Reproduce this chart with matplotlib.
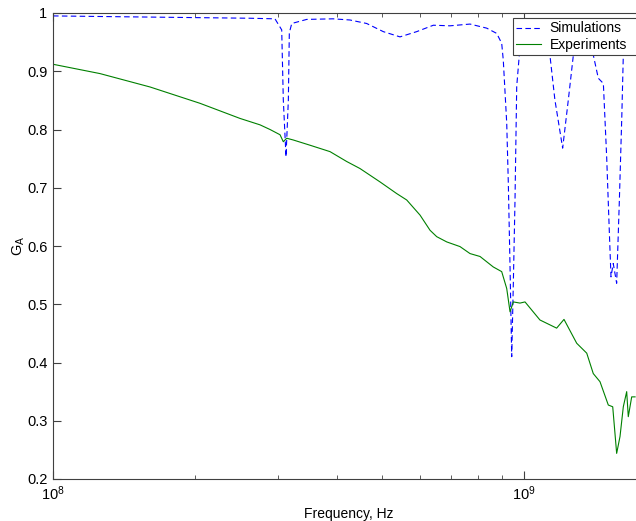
import numpy as np
import matplotlib
matplotlib.use("Agg")
from matplotlib import pyplot as plt
from matplotlib.ticker import FixedLocator, LogLocator, NullFormatter, FuncFormatter

# Simulated gain
sim_freq = [1.000e8, 1.258e8, 1.607e8, 2.051e8, 2.620e8, 2.960e8, 3.059e8, 3.083e8,
            3.124e8, 3.160e8, 3.175e8, 3.213e8, 3.457e8, 3.931e8, 4.271e8, 4.634e8,
            5.027e8, 5.454e8, 5.917e8, 6.420e8, 6.965e8, 7.680e8, 8.333e8, 8.750e8,
            8.967e8, 9.037e8, 9.190e8, 9.262e8, 9.340e8, 9.417e8, 9.492e8, 9.570e8,
            9.650e8, 9.806e8, 1.030e9, 1.108e9, 1.136e9, 1.163e9, 1.208e9, 1.242e9,
            1.273e9, 1.315e9, 1.367e9, 1.403e9, 1.438e9, 1.474e9, 1.498e9, 1.518e9,
            1.530e9, 1.547e9, 1.573e9, 1.594e9, 1.613e9, 1.625e9, 1.679e9, 1.763e9]
sim_gain = [0.995, 0.994, 0.993, 0.992, 0.991, 0.990, 0.971, 0.851,
            0.753, 0.851, 0.966, 0.982, 0.989, 0.990, 0.988, 0.982,
            0.968, 0.959, 0.968, 0.979, 0.978, 0.981, 0.974, 0.965,
            0.948, 0.919, 0.811, 0.708, 0.564, 0.410, 0.536, 0.679,
            0.874, 0.942, 0.975, 0.960, 0.925, 0.851, 0.768, 0.851,
            0.928, 0.965, 0.955, 0.928, 0.888, 0.879, 0.753, 0.622,
            0.547, 0.570, 0.536, 0.679, 0.822, 0.928, 0.965, 0.970]

# Measured gain
exp_freq = [1.000e8, 1.258e8, 1.607e8, 2.051e8, 2.495e8, 2.751e8, 2.889e8, 3.034e8,
            3.083e8, 3.135e8, 3.237e8, 3.513e8, 3.874e8, 4.204e8, 4.485e8, 4.947e8,
            5.367e8, 5.636e8, 6.016e8, 6.317e8, 6.527e8, 6.855e8, 7.313e8, 7.680e8,
            8.066e8, 8.606e8, 8.967e8, 9.190e8, 9.340e8, 9.492e8, 9.806e8, 1.005e9,
            1.081e9, 1.173e9, 1.216e9, 1.294e9, 1.359e9, 1.403e9, 1.450e9, 1.510e9,
            1.543e9, 1.573e9, 1.599e9, 1.625e9, 1.652e9, 1.665e9, 1.693e9, 1.721e9]
exp_gain = [0.912, 0.896, 0.873, 0.845, 0.819, 0.808, 0.800, 0.791,
            0.779, 0.785, 0.782, 0.773, 0.762, 0.745, 0.733, 0.710,
            0.690, 0.679, 0.653, 0.627, 0.616, 0.607, 0.599, 0.587,
            0.582, 0.564, 0.556, 0.527, 0.487, 0.504, 0.502, 0.504,
            0.473, 0.459, 0.474, 0.433, 0.416, 0.381, 0.367, 0.327,
            0.324, 0.244, 0.273, 0.324, 0.350, 0.307, 0.341, 0.341]

y_ticks = [0.2, 0.3, 0.4, 0.5, 0.6, 0.7, 0.8, 0.9, 1.0]

plt.rcParams['font.family'] = ['Liberation Sans', 'DejaVu Sans']
plt.rcParams['mathtext.fontset'] = 'custom'
plt.rcParams['mathtext.rm'] = 'Liberation Sans'
plt.rcParams['mathtext.it'] = 'Liberation Sans'

fig = plt.figure(figsize=(6.36, 5.21), dpi=100)
# axes run a little past the right edge of the image, as in the original
ax = fig.add_axes([53 / 636, 42 / 521, 591 / 636, 466 / 521])

ax.semilogx(sim_freq, sim_gain, '--', color='blue', lw=0.8, dashes=(5, 3), label='Simulations')
ax.semilogx(exp_freq, exp_gain, '-', color='green', lw=0.8, label='Experiments')

ax.set_xlim(1e8, 10 ** (8 + 591 / 471))
ax.set_ylim(0.2, 1.0)
ax.yaxis.set_major_locator(FixedLocator(y_ticks))
ax.yaxis.set_major_formatter(FuncFormatter(lambda v, p: '%g' % v))
ax.xaxis.set_major_locator(FixedLocator([1e8, 1e9]))
ax.xaxis.set_major_formatter(FuncFormatter(lambda v, p: r'$10^{%d}$' % round(np.log10(v))))
ax.xaxis.set_minor_locator(LogLocator(base=10, subs=np.arange(2, 10)))
ax.xaxis.set_minor_formatter(NullFormatter())

ax.tick_params(which='both', direction='in', top=True, right=False, labelsize=10.5,
               color='#404040', pad=4)
ax.tick_params(which='major', length=6)
ax.tick_params(which='minor', length=3)
for side in ['left', 'bottom', 'top']:
    ax.spines[side].set_color('#404040')
    ax.spines[side].set_linewidth(0.8)
ax.spines['right'].set_visible(False)

ax.set_xlabel('Frequency, Hz', fontsize=10, labelpad=3)
ax.set_ylabel(r'G$_\mathrm{A}$', fontsize=10.5, labelpad=0)

# legend box runs off the right edge of the image, like the original
leg = ax.legend(loc='upper left', bbox_to_anchor=(513 / 636, 1 - 55 / 521, 130 / 636, 37 / 521),
                bbox_transform=fig.transFigure, mode='expand', fontsize=10, fancybox=False,
                framealpha=1, edgecolor='#404040', borderaxespad=0, handlelength=1.8,
                handletextpad=0.6, borderpad=0.25, labelspacing=0.15)
leg.get_frame().set_linewidth(0.8)

fig.savefig('out.png', dpi=100)
